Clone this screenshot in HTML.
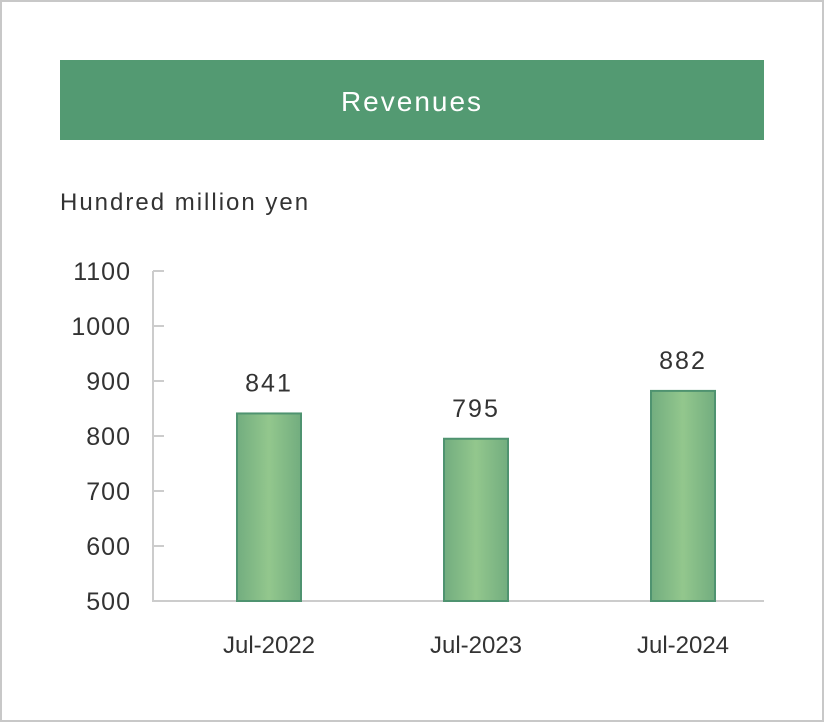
<!DOCTYPE html>
<html><head><meta charset="utf-8"><style>
body{margin:0;background:#fff;}
svg{display:block;font-family:"Liberation Sans","Noto Sans CJK JP",sans-serif;}
</style></head><body>
<svg width="824" height="722" viewBox="0 0 824 722">
<defs><linearGradient id="g" x1="0" x2="1" y1="0" y2="0">
<stop offset="0" stop-color="#72ad7f"/><stop offset="0.5" stop-color="#93c78d"/><stop offset="1" stop-color="#72ad7f"/></linearGradient></defs>
<rect x="1" y="1" width="822" height="720" fill="#fff" stroke="#c8c8c8" stroke-width="2"/>
<rect x="60" y="60" width="704" height="80" fill="#539a72"/>
<text x="412" y="111" text-anchor="middle" fill="#fff" font-size="28" letter-spacing="2">Revenues</text>
<text x="60" y="210" fill="#333" font-size="24" letter-spacing="2">Hundred million yen</text>
<g id="axes"></g><g id="bars"></g>
</svg>
<script>
const categories=["Jul-2022","Jul-2023","Jul-2024"];
const values=[841,795,882];
const yTicks=[500,600,700,800,900,1000,1100];
const NS="http://www.w3.org/2000/svg";
const y=v=>601-(v-500)*0.55;
const x=i=>269+i*207;
function mk(t,a,p){const e=document.createElementNS(NS,t);for(const k in a)e.setAttribute(k,a[k]);p.appendChild(e);return e;}
const ax=document.getElementById('axes'),bg=document.getElementById('bars');
const yl=mk('line',{x1:153,x2:153,y1:y(1100),y2:601,stroke:'#ccc','stroke-width':2},ax);


const xl=mk('line',{x1:152,x2:764,y1:601,y2:601,stroke:'#ccc','stroke-width':2},ax);


yTicks.forEach(v=>{
 const tk=mk('line',{x1:153,x2:164,y1:y(v),y2:y(v),stroke:'#ccc','stroke-width':2},ax);
 
 
 const t=mk('text',{x:131,y:y(v)+9,'text-anchor':'end','font-size':25,fill:'#333','letter-spacing':1},ax);
 t.textContent=v;
 
 
});
categories.forEach((c,i)=>{
 const r=mk('rect',{x:x(i)-32,y:y(values[i]),width:64,height:601-y(values[i]),fill:'url(#g)',stroke:'#4f9370','stroke-width':2},bg);
 
 
 const vl=mk('text',{x:x(i),y:y(values[i])-22,'text-anchor':'middle','font-size':25,fill:'#333','letter-spacing':2},bg);
 vl.textContent=values[i];
 
 
 const cl=mk('text',{x:x(i),y:653,'text-anchor':'middle','font-size':24,fill:'#333'},bg);
 cl.textContent=c;
 
 
});
</script>
</body></html>
